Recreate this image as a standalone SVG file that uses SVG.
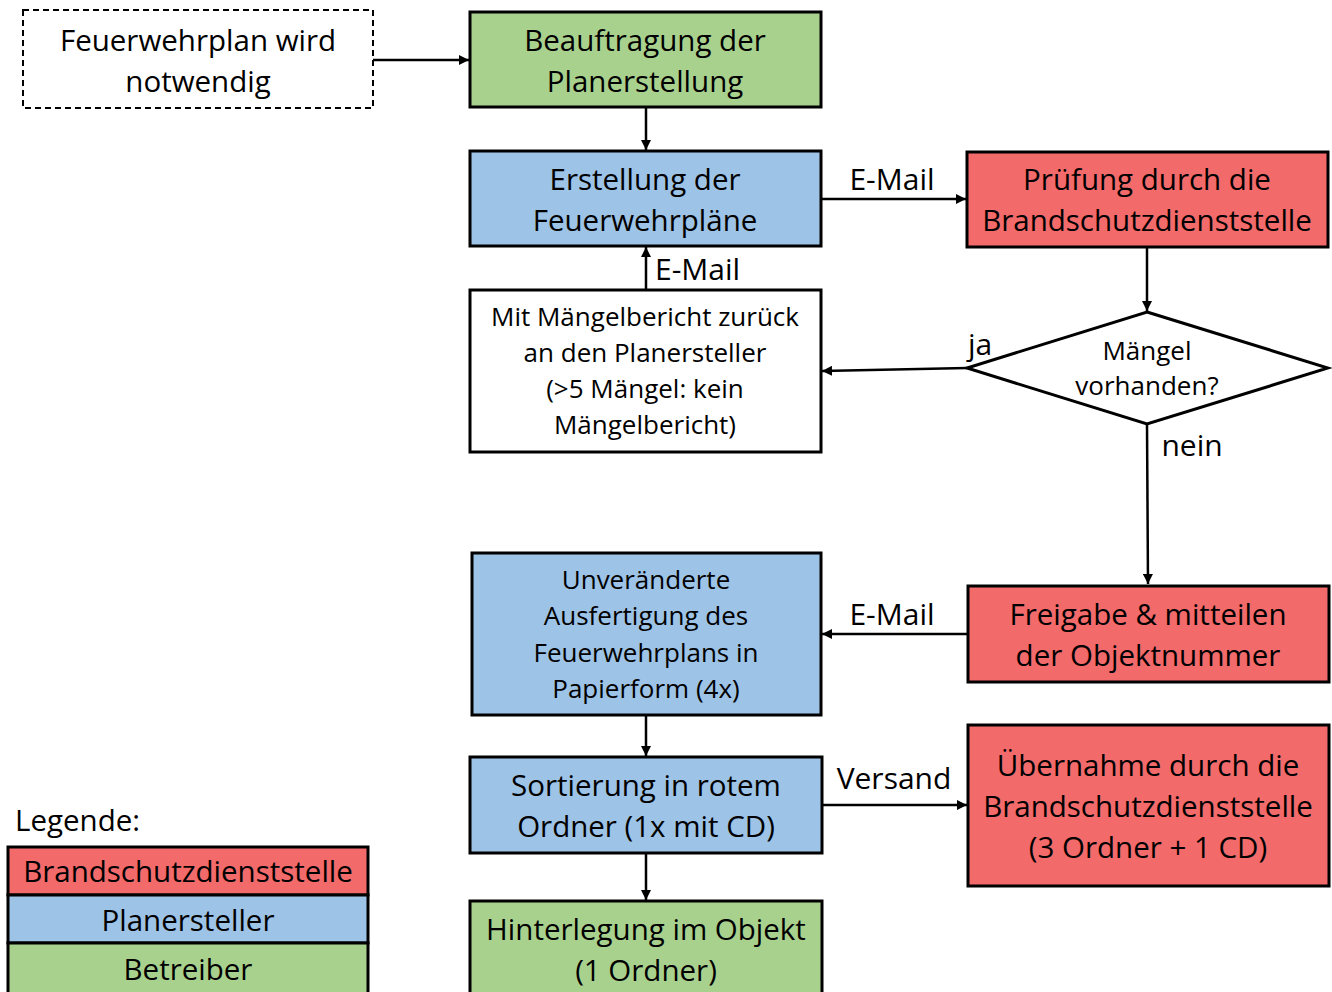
<svg xmlns="http://www.w3.org/2000/svg" width="1332" height="992" viewBox="0 0 1332 992">
<style>
text{font-family:"Open Sans","Liberation Sans",sans-serif;fill:#000;text-anchor:middle}
.b{font-size:29.5px}
.s{font-size:26px}
.box{stroke:#000;stroke-width:3}
.red{fill:#F26A6A}
.blue{fill:#9DC3E6}
.green{fill:#A9D18E}
.white{fill:#fff}
.con{stroke:#000;stroke-width:2.5;fill:none;marker-end:url(#ah)}
.lbl{font-size:30px}
</style>
<defs>
<marker id="ah" viewBox="0 0 10 10" refX="10" refY="5" markerWidth="4" markerHeight="4" orient="auto" markerUnits="strokeWidth">
<path d="M0,0 L10,5 L0,10 z" fill="#000"/>
</marker>
</defs>
<rect width="1332" height="992" fill="#fff"/>

<g id="connectors">
<line class="con" x1="373" y1="60" x2="469" y2="60"/>
<line class="con" x1="646" y1="107" x2="646" y2="150"/>
<line class="con" x1="821" y1="199" x2="966" y2="199"/>
<text class="lbl" x="892" y="190">E-Mail</text>
<line class="con" x1="1147" y1="247" x2="1147" y2="311"/>
<line class="con" x1="967" y1="368" x2="822" y2="371"/>
<text class="lbl" x="980" y="355">ja</text>
<line class="con" x1="646" y1="290" x2="646" y2="247"/>
<text class="lbl" x="655" y="280" style="text-anchor:start">E-Mail</text>
<line class="con" x1="1147" y1="424" x2="1148" y2="584"/>
<text class="lbl" x="1192" y="456">nein</text>
<line class="con" x1="968" y1="634" x2="822" y2="634"/>
<text class="lbl" x="892" y="625">E-Mail</text>
<line class="con" x1="646" y1="715" x2="646" y2="756"/>
<line class="con" x1="822" y1="805" x2="967" y2="805"/>
<text class="lbl" x="894" y="789">Versand</text>
<line class="con" x1="646" y1="853" x2="646" y2="900"/>
</g>

<g id="n-start">
<rect x="23" y="10" width="350" height="98" fill="#fff" stroke="#000" stroke-width="2" stroke-dasharray="6,4"/>
<text class="b" x="198" y="51">Feuerwehrplan wird</text>
<text class="b" x="198" y="92">notwendig</text>
</g>

<g id="n-beauftragung">
<rect class="box green" x="470" y="12" width="351" height="95"/>
<text class="b" x="645" y="51">Beauftragung der</text>
<text class="b" x="645" y="92">Planerstellung</text>
</g>

<g id="n-erstellung">
<rect class="box blue" x="470" y="151" width="351" height="95"/>
<text class="b" x="645" y="190">Erstellung der</text>
<text class="b" x="645" y="231">Feuerwehrpläne</text>
</g>

<g id="n-pruefung">
<rect class="box red" x="967" y="152" width="361" height="95"/>
<text class="b" x="1147" y="190">Prüfung durch die</text>
<text class="b" x="1147" y="231">Brandschutzdienststelle</text>
</g>

<g id="n-maengel">
<polygon class="box white" points="1147,312 1328,368 1147,424 967,368"/>
<text class="s" x="1147" y="360">Mängel</text>
<text class="s" x="1147" y="395">vorhanden?</text>
</g>

<g id="n-zurueck">
<rect class="box white" x="470" y="290" width="351" height="162"/>
<text class="s" x="645" y="326">Mit Mängelbericht zurück</text>
<text class="s" x="645" y="362">an den Planersteller</text>
<text class="s" x="645" y="398">(&gt;5 Mängel: kein</text>
<text class="s" x="645" y="434">Mängelbericht)</text>
</g>

<g id="n-freigabe">
<rect class="box red" x="968" y="586" width="361" height="96"/>
<text class="b" x="1148" y="625">Freigabe &amp; mitteilen</text>
<text class="b" x="1148" y="666">der Objektnummer</text>
</g>

<g id="n-ausfertigung">
<rect class="box blue" x="472" y="553" width="349" height="162"/>
<text class="s" x="646" y="589">Unveränderte</text>
<text class="s" x="646" y="625">Ausfertigung des</text>
<text class="s" x="646" y="662">Feuerwehrplans in</text>
<text class="s" x="646" y="698">Papierform (4x)</text>
</g>

<g id="n-sortierung">
<rect class="box blue" x="470" y="757" width="352" height="96"/>
<text class="b" x="646" y="796">Sortierung in rotem</text>
<text class="b" x="646" y="837">Ordner (1x mit CD)</text>
</g>

<g id="n-uebernahme">
<rect class="box red" x="968" y="725" width="361" height="161"/>
<text class="b" x="1148" y="776">Übernahme durch die</text>
<text class="b" x="1148" y="817">Brandschutzdienststelle</text>
<text class="b" x="1148" y="858">(3 Ordner + 1 CD)</text>
</g>

<g id="n-hinterlegung">
<rect class="box green" x="470" y="901" width="352" height="96"/>
<text class="b" x="646" y="940">Hinterlegung im Objekt</text>
<text class="b" x="646" y="981">(1 Ordner)</text>
</g>

<g id="legend">
<text class="b" x="15" y="831" style="text-anchor:start">Legende:</text>
<rect class="box red" x="8" y="847" width="360" height="48"/>
<text class="b" x="188" y="882">Brandschutzdienststelle</text>
<rect class="box blue" x="8" y="895" width="360" height="48"/>
<text class="b" x="188" y="931">Planersteller</text>
<rect class="box green" x="8" y="943" width="360" height="52"/>
<text class="b" x="188" y="980">Betreiber</text>
</g>
</svg>
